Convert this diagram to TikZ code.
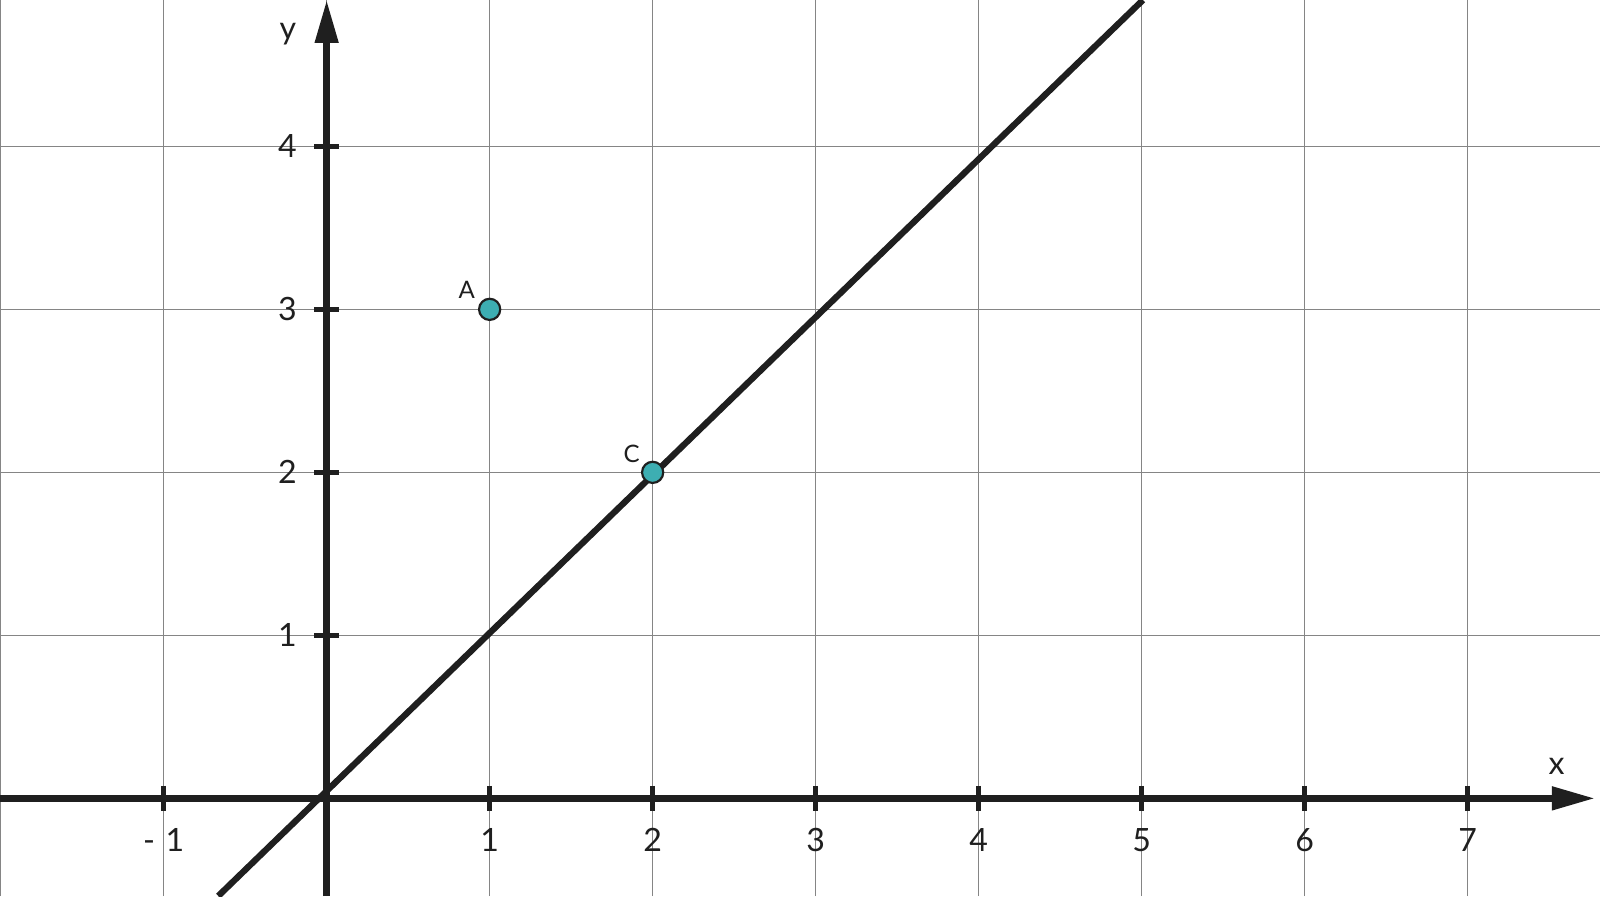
\documentclass[tikz,border=0pt]{standalone}
\usepackage{fontspec}
\setmainfont{Lato}
\usetikzlibrary{arrows.meta}
\definecolor{pointteal}{RGB}{61,174,178}
\tikzset{
  axis/.style={line width=1.15pt, color=black!88, -{Triangle[length=7.5pt,width=3.9pt]}},
  gridline/.style={line width=0.28pt, color=black!48},
  tick/.style={line width=0.9pt, color=black!88},
  point/.style={circle, draw=black!88, line width=0.38pt, fill=pointteal, inner sep=0pt, minimum size=0.13cm},
  lbl/.style={font=\fontsize{5.6}{6}\selectfont, text=black!88, inner sep=0pt},
  ptlbl/.style={font=\fontsize{4.2}{5}\selectfont, text=black!88, inner sep=0pt}
}
\begin{document}
\begin{tikzpicture}
  \useasboundingbox (-2.004,-0.599) rectangle (7.812,4.898);
  % grid
  \foreach \x in {-2,...,7}
    \draw [gridline] (\x,-0.599) -- (\x,4.898);
  \foreach \y in {1,...,4}
    \draw [gridline] (-2.004,\y) -- (7.812,\y);
  % axes
  \draw [axis] (-2.004,0) -- (7.781,0);
  \draw [axis] (0,-0.599) -- (0,4.898);
  \foreach \x in {-1,1,2,...,7}
    \draw [tick] (\x,0.077) -- (\x,-0.077);
  \foreach \x in {1,...,7}
    \node [lbl] (xl\x) at (\x,-0.257) {\x};
  \node [lbl] (xlm1) at (-1,-0.257) {-\,\,1};
  \foreach \y in {1,...,4}
    {\draw [tick] (-0.077,\y) -- (0.077,\y);
     \node [lbl] (yl\y) at (-0.24,\y) {\y};}
  \node [lbl] (xname) at (7.546,0.194) {x};
  \node [lbl] (yname) at (-0.237,4.69) {y};
  % line through the origin and C
  \coordinate (lstart) at (-0.665,-0.599);
  \coordinate (lend) at (5.008,4.898);
  \draw [line width=1.1pt, black!88] (lstart) -- (lend);
  % points
  \node [point] (A) at (1,3) {};
  \node [point] (C) at (2,2) {};
  \node [ptlbl] (Alabel) at (0.859,3.119) {A};
  \node [ptlbl] (Clabel) at (1.871,2.112) {C};
\end{tikzpicture}
\end{document}
